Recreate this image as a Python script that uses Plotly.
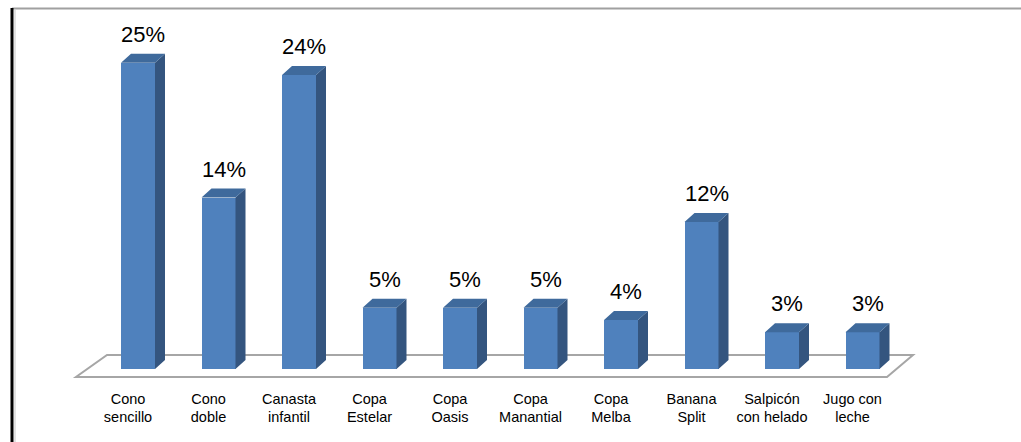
import plotly.graph_objects as go

# Share of sales per product (%)
categories = ["Cono<br>sencillo", "Cono<br>doble", "Canasta<br>infantil", "Copa<br>Estelar",
              "Copa<br>Oasis", "Copa<br>Manantial", "Copa<br>Melba", "Banana<br>Split",
              "Salpicón<br>con helado", "Jugo con<br>leche"]
values = [25, 14, 24, 5, 5, 5, 4, 12, 3, 3]
value_labels = [f"{v}%" for v in values]

W, H = 1021, 442
MB = 58                       # bottom margin holding the category labels
PLOT_H = H - MB
X0_PX, STEP_PX = 138.0, 80.5  # pixel centre of first bar and spacing between bars
Y0_PX, UNIT_PX = 369.0, 12.25 # pixel of the 0 % baseline and pixels per percent

x_range = [-X0_PX / STEP_PX, (W - X0_PX) / STEP_PX]
y_range = [(Y0_PX - PLOT_H) / UNIT_PX, Y0_PX / UNIT_PX]

FRONT = "#4F81BD"
SIDE = "#34557F"
TOP = "#3F6A9C"

bar_w = 34 / STEP_PX
half = bar_w / 2
dx = 10 / STEP_PX             # depth offset of the 3D faces
dy = 9 / UNIT_PX

xs = list(range(len(values)))

fig = go.Figure()

# front faces
fig.add_trace(go.Bar(x=xs, y=values, width=bar_w, marker=dict(color=FRONT, line=dict(width=0)),
                     hoverinfo="skip", showlegend=False))

# right side faces and top faces
side_x, side_y, top_x, top_y = [], [], [], []
for i, v in zip(xs, values):
    r = i + half
    side_x += [r, r + dx, r + dx, r, r, None]
    side_y += [0, dy, v + dy, v, 0, None]
    l = i - half
    top_x += [l, r, r + dx, l + dx, l, None]
    top_y += [v, v, v + dy, v + dy, v, None]

fig.add_trace(go.Scatter(x=side_x, y=side_y, fill="toself", fillcolor=SIDE, mode="lines",
                         line=dict(width=0, color=SIDE), hoverinfo="skip", showlegend=False))
fig.add_trace(go.Scatter(x=top_x, y=top_y, fill="toself", fillcolor=TOP, mode="lines",
                         line=dict(width=0, color=TOP), hoverinfo="skip", showlegend=False))

# value labels above each bar
for i, v, t in zip(xs, values, value_labels):
    fig.add_annotation(x=i + dx / 2, y=v + dy, text=t, showarrow=False, yanchor="bottom",
                       yshift=5, font=dict(family="Liberation Sans, Arial", size=22, color="#000000"))

# floor of the 3D plot
fl_front_y = (Y0_PX - 377) / UNIT_PX
fl_back_y = (Y0_PX - 355) / UNIT_PX
fl_front_l = (76 - X0_PX) / STEP_PX
fl_front_r = (887 - X0_PX) / STEP_PX
fl_back_l = (107 - X0_PX) / STEP_PX
fl_back_r = (913 - X0_PX) / STEP_PX
floor_path = (f"M{fl_front_l},{fl_front_y} L{fl_front_r},{fl_front_y} "
              f"L{fl_back_r},{fl_back_y} L{fl_back_l},{fl_back_y} Z")
fig.add_shape(type="path", path=floor_path, xref="x", yref="y", layer="below",
              line=dict(color="#A6A6A6", width=2), fillcolor="rgba(0,0,0,0)")


def py(px):
    # pixel row -> paper y
    return (PLOT_H - px) / PLOT_H


def pxx(px):
    return px / W


# chart frame
fig.add_shape(type="line", xref="paper", yref="paper", x0=pxx(12), x1=pxx(W), y0=py(8.5), y1=py(8.5),
              line=dict(color="#A0A0A0", width=2))
fig.add_shape(type="line", xref="paper", yref="paper", x0=pxx(12), x1=pxx(12), y0=py(8), y1=py(H),
              line=dict(color="#000000", width=3))
fig.add_shape(type="line", xref="paper", yref="paper", x0=pxx(15), x1=pxx(15), y0=py(10), y1=py(H),
              line=dict(color="#C8C8C8", width=1))

label_shift = 10 / STEP_PX
fig.update_layout(
    width=W, height=H,
    margin=dict(l=0, r=0, t=0, b=MB, pad=0),
    plot_bgcolor="white", paper_bgcolor="white",
    bargap=0,
    xaxis=dict(range=x_range, tickmode="array", tickvals=[i - label_shift for i in xs],
               ticktext=categories, showgrid=False, zeroline=False, showline=False, ticks="",
               ticklabelstandoff=4,
               tickfont=dict(family="Liberation Sans, Arial", size=14.5, color="#000000"),
               fixedrange=True),
    yaxis=dict(range=y_range, visible=False, showgrid=False, zeroline=False, fixedrange=True),
)

fig.write_html("out.html")
